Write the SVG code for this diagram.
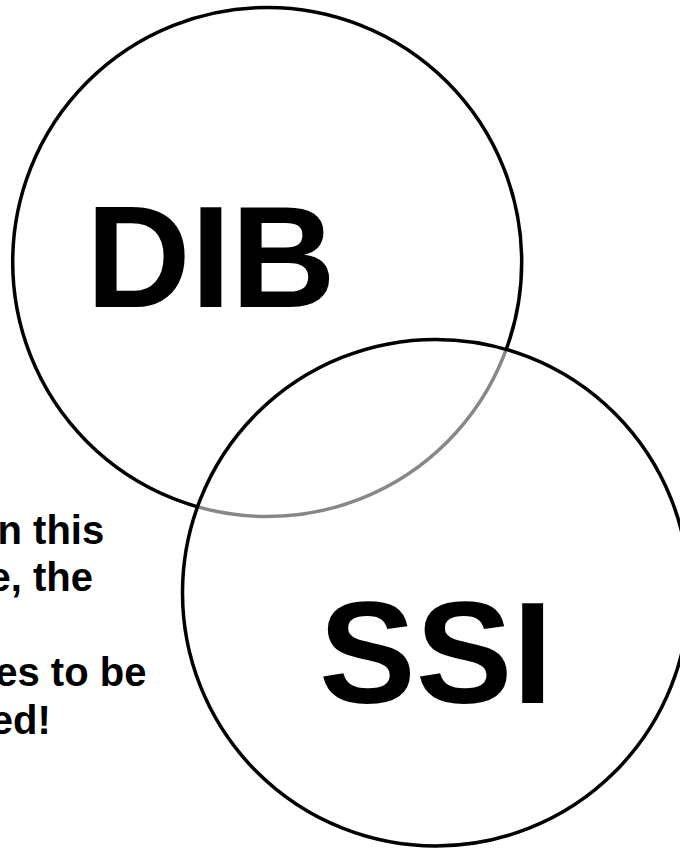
<svg xmlns="http://www.w3.org/2000/svg" width="680" height="848" viewBox="0 0 680 848">
  <style>
    .ring { stroke: #000; stroke-width: 3.5; }
    .big { font-family: "Liberation Sans", Arial, sans-serif; font-weight: bold; font-size: 145px; fill: #000; }
    .note { font-family: "Liberation Sans", Arial, sans-serif; font-weight: bold; font-size: 40px; fill: #000; text-anchor: end; }
  </style>
  <rect x="0" y="0" width="680" height="848" fill="#fff"/>

  <!-- upper set -->
  <g id="dib">
    <circle class="ring" cx="267.2" cy="262" r="254.5" fill="none"/>
    <text class="big" x="86" y="307.3">DIB</text>
  </g>

  <!-- lower set: translucent white fill greys out the overlapped arc -->
  <g id="ssi">
    <circle class="ring" cx="435.8" cy="592.7" r="253.3" fill="#fff" fill-opacity="0.53"/>
    <text class="big" x="319" y="703">SSI</text>
  </g>

  <!-- side note, running off the left edge -->
  <g id="note">
    <text class="note" x="104.2" y="543.5">n this</text>
    <text class="note" x="93" y="591">e, the</text>
    <text class="note" x="146.4" y="686">es to be</text>
    <text class="note" x="50.7" y="733.5">ed!</text>
  </g>
</svg>
